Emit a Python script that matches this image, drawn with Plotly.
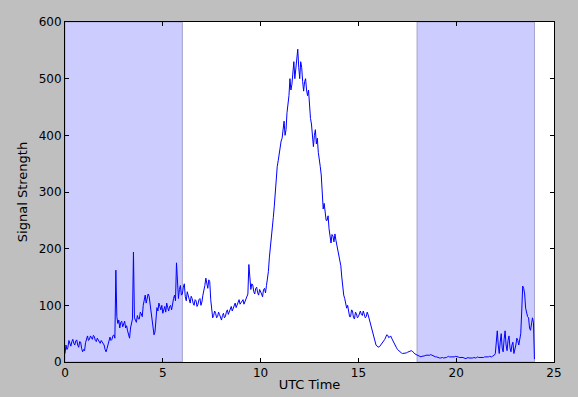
import plotly.graph_objects as go

# Signal strength read at every 0.1 h, 0.0 .. 24.0
signal_tenths = [
    15, 22, 38, 28, 40, 30, 39, 26, 35, 18,          # 0
    20, 42, 38, 46, 40, 45, 36, 38, 33, 36,          # 1
    30, 18, 30, 44, 40, 48, 162, 68, 60, 72,         # 2
    66, 60, 55, 42, 72, 194, 74, 82, 76, 85,         # 3
    100, 118, 110, 116, 92, 60, 53, 96, 104, 92,     # 4
    86, 98, 104, 90, 100, 106, 118, 175, 112, 135,   # 5
    120, 138, 108, 118, 104, 112, 100, 108, 102, 112,  # 6
    106, 125, 148, 130, 142, 88, 82, 86, 80, 84,     # 7
    74, 86, 80, 92, 88, 98, 94, 104, 100, 110,       # 8
    104, 110, 106, 116, 172, 128, 136, 120, 132, 118,  # 9
    125, 115, 130, 135, 160, 200, 240, 275, 330, 355,  # 10
    375, 395, 425, 410, 455, 500, 490, 530, 515, 552,  # 11
    500, 520, 478, 500, 470, 450, 420, 380, 410, 395,  # 12
    350, 330, 270, 262, 250, 235, 210, 222, 226, 205,  # 13
    190, 170, 130, 112, 95, 88, 80, 90, 76, 85,      # 14
    80, 90, 82, 84, 80, 83, 70, 56, 40, 30,          # 15
    27, 28, 32, 36, 44, 47, 44, 42, 36, 28,          # 16
    22, 18, 16, 15, 15, 17, 19, 20, 18, 14,          # 17
    12, 10, 9, 10, 11, 12, 11, 13, 12, 10,           # 18
    9, 8, 7, 8, 7, 8, 10, 9, 8, 9,                   # 19
    10, 9, 8, 9, 7, 6, 8, 7, 6, 8,                   # 20
    7, 9, 8, 7, 8, 9, 8, 10, 9, 11,                  # 21
    15, 55, 15, 50, 18, 55, 20, 46, 18, 35,          # 22
    22, 42, 30, 50, 134, 120, 85, 78, 56, 78,        # 23
    5,                                               # 24.0
]
# Signal strength read half-way between those samples (0.05, 0.15, ... 23.95 h)
signal_halves = [
    30, 26, 32, 36, 33, 37, 30, 36, 24, 22,          # 0
    34, 46, 40, 42, 47, 38, 42, 34, 38, 32,          # 1
    22, 24, 40, 38, 46, 42, 80, 74, 70, 62,          # 2
    72, 64, 48, 60, 76, 78, 70, 76, 88, 80,          # 3
    112, 104, 120, 100, 70, 48, 80, 90, 98, 100,     # 4
    92, 88, 96, 98, 92, 112, 108, 125, 128, 118,     # 5
    132, 115, 124, 108, 116, 104, 110, 98, 110, 100,  # 6
    118, 135, 138, 145, 110, 78, 90, 78, 88, 80,     # 7
    82, 78, 88, 84, 94, 90, 100, 96, 106, 102,       # 8
    108, 102, 112, 120, 140, 138, 124, 130, 122, 128,  # 9
    120, 128, 122, 145, 185, 215, 255, 300, 345, 370,  # 10
    390, 410, 400, 440, 470, 480, 515, 500, 540, 520,  # 11
    530, 495, 495, 480, 480, 430, 400, 400, 385, 370,  # 12
    345, 290, 280, 250, 258, 220, 225, 212, 215, 200,  # 13
    180, 150, 118, 100, 100, 80, 92, 78, 88, 78,     # 14
    86, 84, 90, 78, 88, 76, 62, 48, 34, 28,          # 15
    26, 30, 34, 40, 48, 43, 46, 38, 32, 25,          # 16
    20, 17, 15, 16, 16, 18, 20, 19, 16, 13,          # 17
    11, 9, 10, 11, 12, 11, 12, 12, 11, 9,            # 18
    8, 7, 8, 7, 8, 9, 9, 8, 9, 10,                   # 19
    9, 8, 9, 8, 6, 7, 7, 6, 7, 7,                    # 20
    8, 8, 7, 8, 9, 8, 9, 9, 10, 12,                  # 21
    40, 30, 35, 25, 40, 30, 38, 25, 30, 15,          # 22
    30, 38, 40, 90, 130, 95, 80, 60, 68, 70,         # 23
]

times, signal = [], []
for i, v in enumerate(signal_tenths):
    times.append(round(i * 0.1, 2))
    signal.append(v)
    if i < len(signal_halves):
        times.append(round(i * 0.1 + 0.05, 2))
        signal.append(signal_halves[i])

night_spans = [(0, 6), (18, 24)]
x_ticks = [0, 5, 10, 15, 20, 25]
y_ticks = [0, 100, 200, 300, 400, 500, 600]

fig = go.Figure()
fig.add_trace(go.Scatter(x=times, y=signal, mode="lines",
                         line=dict(color="#0000ff", width=1), showlegend=False))

for a, b in night_spans:
    fig.add_shape(type="rect", xref="x", yref="paper", x0=a, x1=b, y0=0, y1=1,
                  fillcolor="#ccccff", line=dict(color="#a3a3cc", width=1),
                  layer="below")

axis_common = dict(showgrid=False, zeroline=False, showline=True, linecolor="black",
                   linewidth=1, mirror="ticks", ticks="inside", ticklen=4, automargin=False,
                   tickcolor="black", tickfont=dict(family="DejaVu Sans", size=12, color="black"))

fig.update_xaxes(range=[0, 25], tickvals=x_ticks,
                 title=dict(text="UTC Time", font=dict(family="DejaVu Sans", size=13, color="black"),
                            standoff=0), **axis_common)
fig.update_yaxes(range=[0, 600], tickvals=y_ticks,
                 title=dict(text="Signal Strength", font=dict(family="DejaVu Sans", size=13, color="black"),
                            standoff=8), **axis_common)

fig.update_layout(width=578, height=397, paper_bgcolor="#bfbfbf", plot_bgcolor="white",
                  margin=dict(l=65, r=24, t=22, b=35))

fig.write_html("out.html", config={"displayModeBar": False},
               post_script="document.body.style.margin='0';document.body.style.background='#bfbfbf';")
